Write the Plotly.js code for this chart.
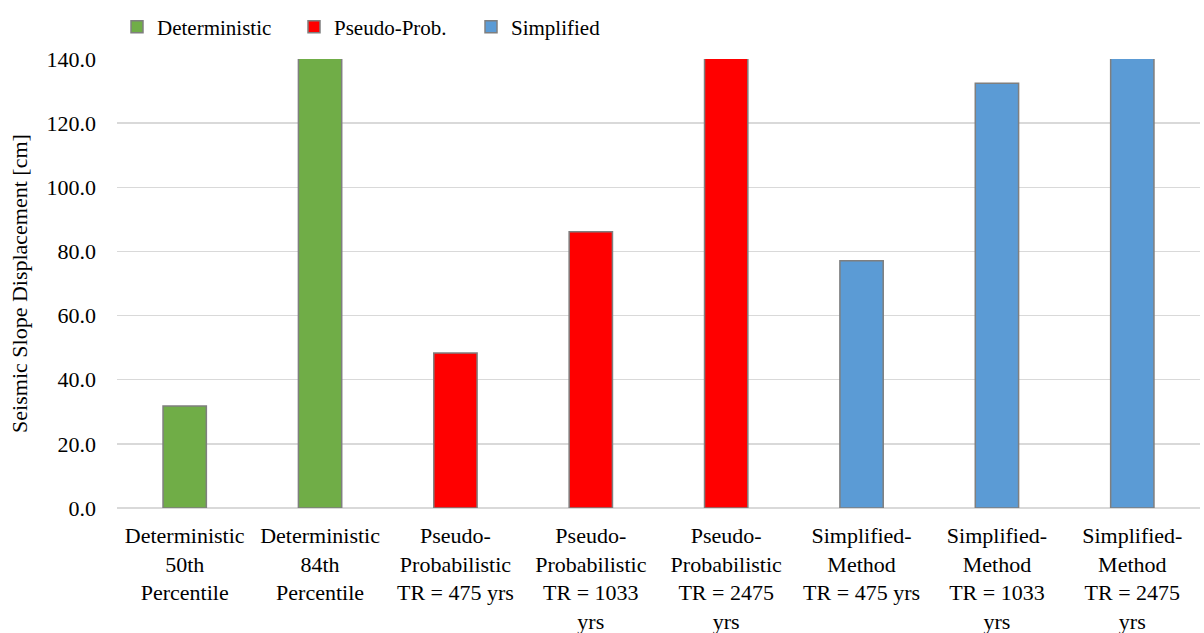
<!DOCTYPE html>
<html>
<head>
<meta charset="utf-8">
<script src="https://cdn.plot.ly/plotly-3.0.1.min.js"></script>
<style>
html,body{margin:0;padding:0;background:#fff;}
#chart{width:1204px;height:633px;}
</style>
</head>
<body>
<div id="chart"></div>
<script>
const detCategories = ["Deterministic<br>50th<br>Percentile", "Deterministic<br>84th<br>Percentile"];
const detValues = [31.8, 160];
const pseudoCategories = ["Pseudo-<br>Probabilistic<br>TR = 475 yrs", "Pseudo-<br>Probabilistic<br>TR = 1033<br>yrs", "Pseudo-<br>Probabilistic<br>TR = 2475<br>yrs"];
const pseudoValues = [48.3, 86.1, 190];
const simpCategories = ["Simplified-<br>Method<br>TR = 475 yrs", "Simplified-<br>Method<br>TR = 1033<br>yrs", "Simplified-<br>Method<br>TR = 2475<br>yrs"];
const simpValues = [77.1, 132.4, 175];
const seriesNames = ["Deterministic", "Pseudo-Prob.", "Simplified"];
const yTicks = [0, 20, 40, 60, 80, 100, 120, 140];
const yTickText = ["0.0", "20.0", "40.0", "60.0", "80.0", "100.0", "120.0", "140.0"];

const allCats = detCategories.concat(pseudoCategories, simpCategories);
const fam = 'Liberation Serif, Times New Roman, DejaVu Serif, serif';
function mk(x, y, name, color) {
  return {type: 'bar', x: x, y: y, name: name, width: 0.32,
    marker: {color: color, line: {color: '#7F7F7F', width: 1.5}}};
}
const data = [
  mk(detCategories, detValues, seriesNames[0], '#70AD47'),
  mk(pseudoCategories, pseudoValues, seriesNames[1], '#FF0000'),
  mk(simpCategories, simpValues, seriesNames[2], '#5B9BD5')
];
const layout = {
  width: 1204, height: 633,
  margin: {l: 117, r: 4, t: 59, b: 125, autoexpand: false},
  barmode: 'overlay',
  font: {family: fam, size: 22, color: '#000000'},
  showlegend: true,
  legend: {orientation: 'h', x: 0.0, xanchor: 'left', y: 1.071, yanchor: 'middle',
    entrywidth: 132, font: {family: fam, size: 21}},
  xaxis: {type: 'category', categoryorder: 'array', categoryarray: allCats,
    showgrid: false, zeroline: false, ticks: '', ticklabelstandoff: 12, automargin: false,
    tickfont: {family: fam, size: 22}},
  yaxis: {range: [0, 140], tickvals: yTicks, ticktext: yTickText, gridcolor: '#D9D9D9', gridwidth: 1.5,
    zeroline: true, zerolinecolor: '#D9D9D9', zerolinewidth: 1.5, ticks: '', automargin: false,
    tickfont: {family: fam, size: 22}, ticklabelstandoff: 20,
    title: {text: 'Seismic Slope Displacement [cm]', font: {family: fam, size: 22}, standoff: 12}}
};
Plotly.newPlot('chart', data, layout, {staticPlot: true});
</script>
</body>
</html>
